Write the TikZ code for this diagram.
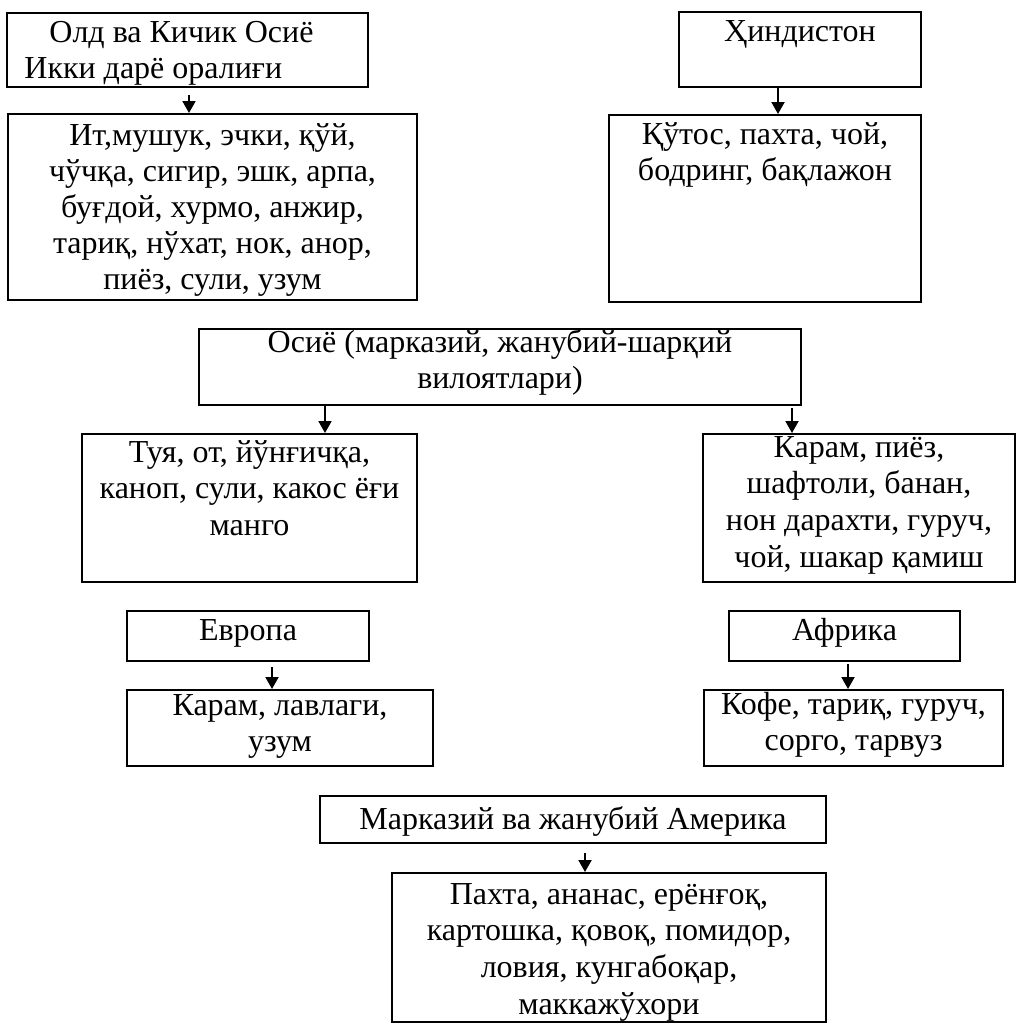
\documentclass[tikz,border=0pt]{standalone}
\usepackage{fontspec}
\setmainfont{Liberation Serif}
\usetikzlibrary{arrows.meta,positioning}

\newcommand\rowsc[1]{\begin{tabular}[t]{@{}c@{}}#1\end{tabular}}
\newcommand\rowsl[1]{\begin{tabular}[t]{@{}l@{}}#1\end{tabular}}

\tikzset{
  box/.style={draw,line width=1pt,inner sep=0pt},
  txt/.style={font=\fontsize{16}{18.4}\selectfont,anchor=base,inner sep=0pt},
  arr/.style={line width=1pt,-{Triangle[length=6pt,width=6.5pt]}}
}

\begin{document}
\begin{tikzpicture}[x=0.5pt,y=-0.5pt,line join=miter]
  \useasboundingbox (0,0) rectangle (1017,1034);
  % frames
  \node[box,minimum width=180.5pt,minimum height=37pt] (old) at (187.5,50) {};
  \node[box,minimum width=204.5pt,minimum height=93pt] (itm) at (212.5,207) {};
  \node[box,minimum width=121pt,minimum height=37.5pt] (hind) at (800,49.5) {};
  \node[box,minimum width=156pt,minimum height=93.5pt] (kut) at (765,208.5) {};
  \node[box,minimum width=301pt,minimum height=38pt] (osiyo) at (500,367) {};
  \node[box,minimum width=167.5pt,minimum height=74pt] (tuya) at (249.5,508) {};
  \node[box,minimum width=156pt,minimum height=74pt] (karp) at (859,508) {};
  \node[box,minimum width=121pt,minimum height=25pt] (evr) at (248,636) {};
  \node[box,minimum width=153pt,minimum height=38pt] (karl) at (280,728) {};
  \node[box,minimum width=115.5pt,minimum height=25pt] (afr) at (844.5,636) {};
  \node[box,minimum width=149.5pt,minimum height=38pt] (kofe) at (853.5,728) {};
  \node[box,minimum width=253pt,minimum height=23.5pt] (amer) at (573,819.5) {};
  \node[box,minimum width=217pt,minimum height=74.5pt] (pax) at (609,947.5) {};

  % texts
  \node[txt,anchor=base west] (oldT) at ([xshift=9pt,yshift=-15pt]old.north west)
    {\rowsl{\hspace*{12.5pt}Олд ва Кичик Осиё\\Икки дарё оралиғи}};
  \node[txt,font=\fontsize{16}{18}\selectfont] (itmT) at ([yshift=-16pt]itm.north)
    {\rowsc{Ит,мушук, эчки, қўй,\\чўчқа, сигир, эшк, арпа,\\буғдой, хурмо, анжир,\\тариқ, нўхат, нок, анор,\\пиёз, сули, узум}};
  \node[txt] (hindT) at ([yshift=-15pt]hind.north) {Ҳиндистон};
  \node[txt] (kutT) at ([yshift=-15pt]kut.north) {\rowsc{Қўтос, пахта, чой,\\бодринг, бақлажон}};
  \node[txt] (osiyoT) at ([yshift=-12pt]osiyo.north) {\rowsc{Осиё (марказий, жанубий-шарқий\\вилоятлари)}};
  \node[txt] (tuyaT) at ([yshift=-14.5pt]tuya.north) {\rowsc{Туя, от, йўнғичқа,\\каноп, сули, какос ёғи\\манго}};
  \node[txt] (karpT) at ([yshift=-12pt]karp.north) {\rowsc{Карам, пиёз,\\шафтоли, банан,\\нон дарахти, гуруч,\\чой, шакар қамиш}};
  \node[txt] (evrT) at ([yshift=-15pt]evr.north) {Европа};
  \node[txt] (karlT) at ([yshift=-13pt]karl.north) {\rowsc{Карам, лавлаги,\\узум}};
  \node[txt] (afrT) at ([yshift=-15pt]afr.north) {Африка};
  \node[txt] (kofeT) at ([yshift=-12.5pt]kofe.north) {\rowsc{Кофе, тариқ, гуруч,\\сорго, тарвуз}};
  \node[txt] (amerT) at ([yshift=-17pt]amer.north) {Марказий ва жанубий Америка};
  \node[txt] (paxT) at ([yshift=-16pt]pax.north) {\rowsc{Пахта, ананас, ерёнғоқ,\\картошка, қовоқ, помидор,\\ловия, кунгабоқар,\\маккажўхори}};

  % arrows
  \draw[arr,shorten <=3.5pt] (old.south -| 189,0) -- (itm.north -| 189,0);
  \draw[arr] (hind.south -| 778,0) -- (kut.north -| 778,0);
  \draw[arr] (osiyo.south -| 325,0) -- (tuya.north -| 325,0);
  \draw[arr,shorten <=1pt] (osiyo.south -| 792,0) -- (karp.north -| 792,0);
  \draw[arr,shorten <=2.5pt] (evr.south -| 272,0) -- (karl.north -| 272,0);
  \draw[arr,shorten <=1pt] (afr.south -| 848,0) -- (kofe.north -| 848,0);
  \draw[arr,shorten <=4.5pt] (amer.south -| 585,0) -- (pax.north -| 585,0);
\end{tikzpicture}
\end{document}
